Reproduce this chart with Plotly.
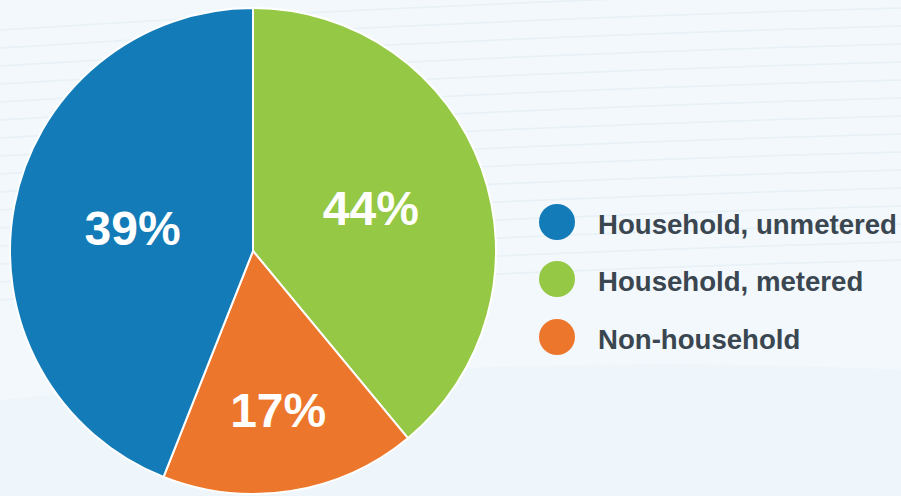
import plotly.graph_objects as go

# slice order as drawn, clockwise from 12 o'clock
categories = ["Household, metered", "Non-household", "Household, unmetered"]
slice_shares = [39, 17, 44]             # angular size of each slice as drawn
printed_labels = ["44%", "17%", "39%"]  # percentage text printed on each slice
colors = ["#95c844", "#ec772c", "#137cb8"]

legend_order = ["Household, unmetered", "Household, metered", "Non-household"]

W, H = 901, 496
FONT = "Liberation Sans, Arial, Helvetica, sans-serif"

fig = go.Figure()
fig.add_trace(go.Pie(
    labels=categories,
    values=slice_shares,
    text=printed_labels,
    sort=False,
    direction="clockwise",
    rotation=0,
    marker=dict(colors=colors, line=dict(color="white", width=2)),
    textinfo="text",
    textposition="inside",
    insidetextorientation="horizontal",
    textfont=dict(family=FONT, size=48, color="white", weight="bold"),
    hoverinfo="label+text",
    showlegend=False,
    domain=dict(x=[10 / W, 496 / W], y=[2 / H, 488 / H]),
))

shapes = []
# faint decorative background strokes
for i in range(16):
    ya = 30 + i * 18      # left end (px from top)
    yb = ya - 40          # right end
    ym = ya - 28
    p = "M 0,{:.4f} Q {:.4f},{:.4f} 1,{:.4f}".format(
        1 - ya / H, 450 / W, 1 - ym / H, 1 - yb / H)
    shapes.append(dict(type="path", xref="paper", yref="paper", layer="below",
                       path=p, line=dict(color="rgba(200,222,236,0.28)", width=1.5)))
# slightly bluer lower band
shapes.append(dict(type="path", xref="paper", yref="paper", layer="below",
                   path="M 0,0 L 0,{:.4f} Q {:.4f},{:.4f} 1,{:.4f} L 1,0 Z".format(
                       1 - 400 / H, 500 / W, 1 - 350 / H, 1 - 370 / H),
                   fillcolor="rgba(228,240,249,0.35)", line=dict(width=0)))

annotations = []
leg_y = [222, 279, 337]
for name, y in zip(legend_order, leg_y):
    col = colors[categories.index(name)]
    cx, r = 557, 18
    shapes.append(dict(type="circle", xref="paper", yref="paper",
                       x0=(cx - r) / W, x1=(cx + r) / W,
                       y0=1 - (y + r) / H, y1=1 - (y - r) / H,
                       fillcolor=col, line=dict(width=0)))
    annotations.append(dict(xref="paper", yref="paper", x=596 / W, y=1 - (y + 2) / H,
                            xanchor="left", yanchor="middle", showarrow=False,
                            text=f"<b>{name}</b>",
                            font=dict(family=FONT, size=27.6, color="#3a4650")))

fig.update_layout(
    width=W, height=H,
    margin=dict(l=0, r=0, t=0, b=0),
    paper_bgcolor="#f3f8fc",
    plot_bgcolor="#f3f8fc",
    shapes=shapes,
    annotations=annotations,
)

fig.write_html("out.html", config={"displayModeBar": False},
               post_script="document.body.style.margin='0';")
